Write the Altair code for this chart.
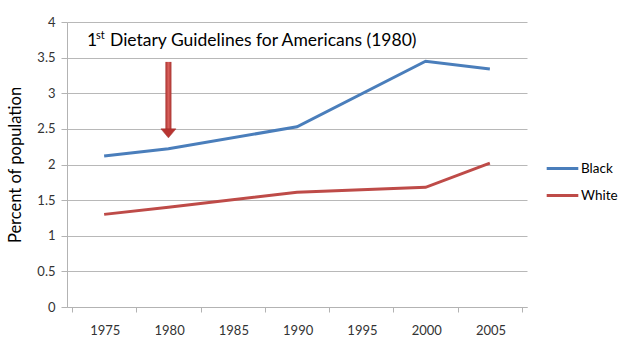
import altair as alt
import pandas as pd

years = [1975, 1980, 1990, 2000, 2005]
black = [2.12, 2.22, 2.53, 3.45, 3.34]
white = [1.30, 1.40, 1.61, 1.68, 2.02]
groups = ["Black", "White"]
colors = ["#4a7ebb", "#be4b48"]
tick_years = [1972.5, 1977.5, 1982.5, 1987.5, 1992.5, 1997.5, 2002.5, 2007.5]
y_ticks = [0, 0.5, 1, 1.5, 2, 2.5, 3, 3.5, 4]
note_main = "Dietary Guidelines for Americans (1980)"
note_num = "1"
note_sup = "st"
arrow_year = [1980]
arrow_top = [3.44]
arrow_bottom = [2.485]
arrow_head = [2.437]

FONT = "Lato"

rows = []
for yr, b, w in zip(years, black, white):
    rows.append({"year": yr, "group": "Black", "value": b})
    rows.append({"year": yr, "group": "White", "value": w})
df = pd.DataFrame(rows)

xscale = alt.Scale(domain=[1972.5, 2007.5], nice=False, zero=False)
yscale = alt.Scale(domain=[0, 4], nice=False)

xaxis = alt.Axis(values=tick_years, title=None, grid=False,
                 labelExpr="datum.value < 2005 ? toString(datum.value + 2.5) : ''",
                 labelOffset=32.8, tickSize=5, labelPadding=12,
                 domainColor="#b3b3b3", tickColor="#b3b3b3",
                 labelColor="#333333", labelFontSize=13, labelFont=FONT)
yaxis = alt.Axis(values=y_ticks, title="Percent of population", format="~g",
                 grid=True, gridColor="#b8b8b8", tickSize=6, labelPadding=6,
                 domainColor="#b3b3b3", tickColor="#b3b3b3",
                 labelColor="#333333", labelFontSize=13, labelFont=FONT,
                 titleFont=FONT, titleFontSize=16.5, titleFontWeight="normal",
                 titleColor="#000000", titlePadding=13)

lines = alt.Chart(df).mark_line(strokeWidth=3).encode(
    x=alt.X("year:Q", scale=xscale, axis=xaxis),
    y=alt.Y("value:Q", scale=yscale, axis=yaxis),
    color=alt.Color("group:N", scale=alt.Scale(domain=groups, range=colors),
                    legend=alt.Legend(title=None, orient="none", legendX=478, legendY=129,
                                      symbolType="stroke", symbolSize=1000,
                                      symbolStrokeWidth=3, labelFont=FONT,
                                      labelFontSize=13.5, labelColor="#000000",
                                      rowPadding=3, labelOffset=1)),
)

arrow_df = pd.DataFrame({"year": arrow_year, "top": arrow_top,
                         "bottom": arrow_bottom, "head": arrow_head})

grad = alt.Gradient(gradient="linear", x1=0, x2=1, y1=0, y2=0,
                    stops=[alt.GradientStop(offset=0, color="#a8302d"),
                           alt.GradientStop(offset=0.5, color="#d8605b"),
                           alt.GradientStop(offset=1, color="#a8302d")])

shaft = alt.Chart(arrow_df).mark_bar(size=6, fill=grad).encode(
    x=alt.X("year:Q", scale=xscale, axis=xaxis),
    y=alt.Y("top:Q", scale=yscale, axis=yaxis),
    y2="bottom:Q",
)
head = alt.Chart(arrow_df).mark_point(
    shape="M-1,-0.6L1,-0.6L0,0.6Z", size=225, filled=True,
    fill="#b83431", stroke="#9a2624", strokeWidth=0.5, opacity=1
).encode(
    x=alt.X("year:Q", scale=xscale, axis=xaxis),
    y=alt.Y("head:Q", scale=yscale, axis=yaxis),
)

note_df = pd.DataFrame({"main": [note_main], "num": [note_num], "sup": [note_sup]})
t_num = alt.Chart(note_df).mark_text(align="left", baseline="alphabetic", font=FONT,
                                     fontSize=17.5, color="#000000").encode(
    x=alt.value(20), y=alt.value(24), text="num:N")
t_sup = alt.Chart(note_df).mark_text(align="left", baseline="alphabetic", font=FONT,
                                     fontSize=11, color="#000000").encode(
    x=alt.value(29), y=alt.value(17), text="sup:N")
t_main = alt.Chart(note_df).mark_text(align="left", baseline="alphabetic", font=FONT,
                                      fontSize=17.5, color="#000000").encode(
    x=alt.value(43), y=alt.value(24), text="main:N")

chart = alt.layer(lines, shaft, head, t_num, t_sup, t_main).properties(
    width=460, height=285,
    autosize=alt.AutoSizeParams(type="none"),
    padding={"left": 67, "top": 22, "right": 97, "bottom": 47},
    background="#ffffff",
).configure_view(stroke=None)

chart.save("out.html", embed_options={"renderer": "svg", "actions": False})
